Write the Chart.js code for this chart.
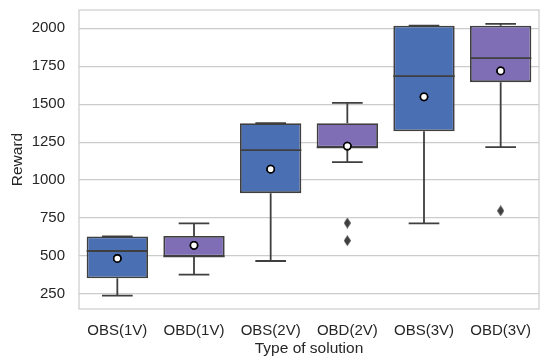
<!DOCTYPE html>
<html><head><meta charset="utf-8">
<script src="https://cdn.jsdelivr.net/npm/chart.js@4/dist/chart.umd.min.js"></script>
<style>html,body{margin:0;padding:0;background:#fff}#wrap{width:550px;height:363px}</style>
</head><body><div id="wrap"><canvas id="c" width="550" height="363"></canvas></div>
<script>
const categories = ['OBS(1V)','OBD(1V)','OBS(2V)','OBD(2V)','OBS(3V)','OBD(3V)'];
const whiskerLow = [239, 377, 467, 1118, 715, 1217];
const q1 = [353, 497, 914, 1215, 1322, 1645];
const medians = [533, 497, 1197, 1215, 1684, 1803];
const q3 = [629, 632, 1375, 1375, 2017, 2017];
const whiskerHigh = [629, 715, 1375, 1509, 2017, 2028];
const means = [484, 570, 1072, 1224, 1548, 1719];
const outlierCats = ['OBD(2V)', 'OBD(2V)', 'OBD(3V)'];
const outlierVals = [717, 601, 798];
const yTicks = [250, 500, 750, 1000, 1250, 1500, 1750, 2000];

const BLUE = '#4a6fb3', PURPLE = '#7f6db5', EDGE = '#3f3f3f', GRID = '#cccccc';
const boxColors = categories.map((c, i) => i % 2 === 0 ? BLUE : PURPLE);
const FONT = 'Liberation Sans, Arial, sans-serif';

const dia = document.createElement('canvas');
dia.width = 7; dia.height = 11;
{ const g = dia.getContext('2d'); g.fillStyle = EDGE; g.beginPath();
  g.moveTo(3.5, 0); g.lineTo(7, 5.5); g.lineTo(3.5, 11); g.lineTo(0, 5.5); g.closePath(); g.fill(); }

const boxPlugin = {
  id: 'boxParts',
  beforeDatasetsDraw(chart) {
    const { ctx, scales: { x, y } } = chart;
    ctx.save();
    ctx.strokeStyle = EDGE; ctx.lineWidth = 1.8;
    const bw = x.getPixelForValue(1) - x.getPixelForValue(0);
    categories.forEach((c, i) => {
      const cx = x.getPixelForValue(i);
      const cap = bw * 0.2;
      ctx.beginPath();
      ctx.moveTo(cx, y.getPixelForValue(q3[i])); ctx.lineTo(cx, y.getPixelForValue(whiskerHigh[i]));
      ctx.moveTo(cx, y.getPixelForValue(q1[i])); ctx.lineTo(cx, y.getPixelForValue(whiskerLow[i]));
      ctx.moveTo(cx - cap, y.getPixelForValue(whiskerHigh[i])); ctx.lineTo(cx + cap, y.getPixelForValue(whiskerHigh[i]));
      ctx.moveTo(cx - cap, y.getPixelForValue(whiskerLow[i])); ctx.lineTo(cx + cap, y.getPixelForValue(whiskerLow[i]));
      ctx.stroke();
    });
    ctx.restore();
  },
  afterDatasetsDraw(chart) {
    const { ctx, scales: { x, y } } = chart;
    ctx.save();
    ctx.strokeStyle = EDGE; ctx.lineWidth = 1.8;
    const bw = x.getPixelForValue(1) - x.getPixelForValue(0);
    categories.forEach((c, i) => {
      const cx = x.getPixelForValue(i);
      const my = y.getPixelForValue(medians[i]);
      ctx.beginPath(); ctx.moveTo(cx - bw * 0.4, my); ctx.lineTo(cx + bw * 0.4, my); ctx.stroke();
    });
    ctx.restore();
    const meta = chart.getDatasetMeta(1);
    meta.data.forEach(p => p.draw(ctx, chart.chartArea));
  },
  afterDraw(chart) {
    const { ctx, chartArea: a } = chart;
    ctx.save(); ctx.strokeStyle = GRID; ctx.lineWidth = 1.2;
    ctx.strokeRect(a.left, a.top, a.right - a.left, a.bottom - a.top);
    ctx.restore();
  }
};

new Chart(document.getElementById('c'), {
  data: {
    labels: categories,
    datasets: [
      { type: 'bar', data: categories.map((c, i) => [q1[i], q3[i]]),
        backgroundColor: boxColors, borderColor: EDGE, borderWidth: 1.8, borderSkipped: false,
        barPercentage: 0.8, categoryPercentage: 1.0, order: 3 },
      { type: 'line', data: means, showLine: false, pointRadius: 3.6, pointBorderWidth: 1.6,
        pointBackgroundColor: '#ffffff', pointBorderColor: '#000000', order: 1 },
      { type: 'line', data: outlierCats.map((c, i) => ({ x: c, y: outlierVals[i] })), showLine: false,
        pointStyle: dia, order: 2 }
    ]
  },
  options: {
    responsive: false, animation: false, devicePixelRatio: 1,
    layout: { padding: { left: 0, right: 11, top: 10, bottom: 2 } },
    plugins: { legend: { display: false }, tooltip: { enabled: false } },
    scales: {
      x: { type: 'category', offset: true,
        afterFit(s) { s.height = 52; s.paddingLeft = 0; s.paddingRight = 0; },
        grid: { display: false, drawTicks: false }, border: { display: false },
        ticks: { color: '#262626', font: { family: FONT, size: 15 }, padding: 13 },
        title: { display: true, text: 'Type of solution', color: '#262626',
          font: { family: FONT, size: 15.5 }, padding: { top: 0, bottom: 3 } } },
      y: { min: 151, max: 2120,
        afterFit(s) { s.width = 79; s.paddingTop = 0; s.paddingBottom = 0; },
        afterBuildTicks(s) { s.ticks = yTicks.map(v => ({ value: v })); },
        grid: { color: GRID, lineWidth: 1.2, drawTicks: false }, border: { display: false },
        ticks: { color: '#262626', font: { family: FONT, size: 15 }, padding: 14,
          callback: v => String(v) },
        title: { display: true, text: 'Reward', color: '#262626',
          font: { family: FONT, size: 15.5 }, padding: { top: 8, bottom: 0 } } }
    }
  },
  plugins: [boxPlugin]
});
</script></body></html>
